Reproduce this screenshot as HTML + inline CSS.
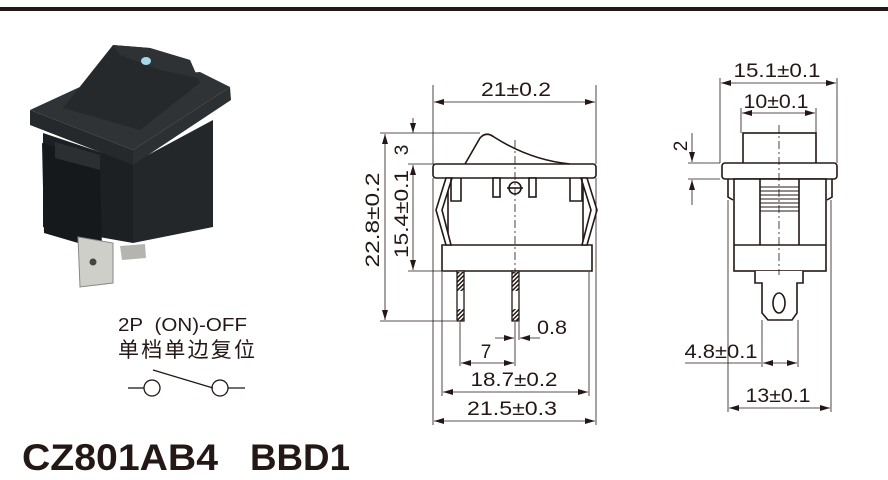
<!DOCTYPE html>
<html><head><meta charset="utf-8"><style>
html,body{margin:0;padding:0;background:#fff;}
svg{display:block;}
text{font-family:"Liberation Sans","Noto Sans CJK SC",sans-serif;fill:#231815;}
</style></head><body>
<svg width="888" height="480" viewBox="0 0 888 480" xmlns="http://www.w3.org/2000/svg">
<defs>
<marker id="a" viewBox="0 0 10 6" refX="10" refY="3" markerWidth="10" markerHeight="6" orient="auto-start-reverse" markerUnits="userSpaceOnUse"><path d="M0,0 L10,3 L0,6 z" fill="#231815"/></marker>
<pattern id="h" width="3" height="3" patternUnits="userSpaceOnUse" patternTransform="rotate(45)"><rect width="1.5" height="3" fill="#231815"/></pattern>
</defs>
<rect x="0" y="7" width="888" height="4" fill="#231815"/>

<!-- photo -->
<g>
<path d="M120,246 L145,244 L146,258 L122,260 Z" fill="#b5b5b0"/>
<path d="M43,133 L133,163 L133,243 L43,227 Z" fill="#1d2022"/>
<path d="M133,163 L213,120 L213,227 L133,243 Z" fill="#23272a"/>
<path d="M42,143 L100,160 L102,250 L44,233 Z" fill="#16191b"/>
<path d="M55,142 L100,155 L100,170 L55,158 Z" fill="#2b2f32"/>
<path d="M30,110 L133,150 L133,165 L30,125 Z" fill="#25292c"/>
<path d="M133,150 L230,87 L231,100 L133,165 Z" fill="#2c3033"/>
<path d="M30,110 L95,80 L200,72 L230,87 L133,150 Z" fill="#2f3336"/>
<path d="M63,108 L113,45 L150,48 L190,60 L200,83 L140,130 Z" fill="#26292c"/>
<path d="M113,45 L150,48 L190,60 L198,78 L160,70 L120,55 Z" fill="#2e3235"/>
<path d="M78,237 L113,243 L113,283 L80,287 Z" fill="#cfcfca" stroke="#888" stroke-width="1"/>
<circle cx="93" cy="262" r="3.5" fill="#444"/>
<ellipse cx="146" cy="61" rx="5" ry="4" fill="#a7d8e8"/>
</g>

<text x="118" y="331" font-size="18" textLength="129" lengthAdjust="spacingAndGlyphs">2P&#160;&#160;(ON)-OFF</text>
<text x="118" y="357" font-size="21" textLength="137" lengthAdjust="spacing">单档单边复位</text>
<g stroke="#231815" stroke-width="1.3" fill="none">
<line x1="128" y1="388" x2="144" y2="388"/>
<circle cx="152" cy="388" r="8"/>
<line x1="153" y1="370" x2="213" y2="388"/>
<circle cx="220" cy="388" r="8"/>
<line x1="228" y1="388" x2="245" y2="388"/>
</g>
<text x="22" y="470" font-size="37" font-weight="bold" textLength="196" lengthAdjust="spacingAndGlyphs">CZ801AB4</text>
<text x="250" y="470" font-size="37" font-weight="bold" textLength="100" lengthAdjust="spacingAndGlyphs">BBD1</text>

<!-- middle drawing -->
<g stroke="#231815" stroke-width="1.6" fill="#fff">
<path d="M465,164 L480,138 Q486,131 494,137 Q530,160 570,164" fill="none"/>
<rect x="433" y="164" width="163" height="14" rx="3"/>
<path d="M442,245 L442,271 L592,271 L592,245 Z"/>
<path d="M448,178 L448,245 M583,178 L583,245" fill="none"/>
<path d="M446,178 L436,210 L446,245 L451,245 L442,210 L452,178 Z"/>
<path d="M587,178 L597,210 L587,245 L582,245 L591,210 L581,178 Z"/>
<path d="M451,178 L451,201 L461,201 L461,178" fill="none"/>
<rect x="493" y="178" width="7" height="19"/>
<rect x="529" y="178" width="7" height="19"/>
<path d="M582,178 L582,201 L570,201 L570,178" fill="none"/>
<circle cx="515" cy="188" r="6" fill="none"/>
<line x1="507" y1="188" x2="523" y2="188"/>
</g>
<g stroke="#231815" stroke-width="1.3">
<rect x="457" y="271" width="7" height="50" fill="#fff"/>
<rect x="512" y="271" width="7" height="50" fill="#fff"/>
</g>
<rect x="457" y="272" width="7" height="19" fill="url(#h)"/>
<rect x="457" y="309" width="7" height="12" fill="url(#h)"/>
<rect x="512" y="272" width="7" height="19" fill="url(#h)"/>
<rect x="512" y="309" width="7" height="12" fill="url(#h)"/>
<line x1="515" y1="140" x2="515" y2="280" stroke="#231815" stroke-width="0.8" stroke-dasharray="8,3,2,3"/>

<g stroke="#231815" stroke-width="0.8" fill="none">
<line x1="433" y1="85" x2="433" y2="164"/><line x1="596" y1="85" x2="596" y2="164"/>
<line x1="434" y1="102" x2="595" y2="102" marker-start="url(#a)" marker-end="url(#a)"/>
<line x1="380" y1="133" x2="480" y2="133"/>
<line x1="380" y1="321" x2="456" y2="321"/>
<line x1="408" y1="164" x2="440" y2="164"/>
<line x1="408" y1="271" x2="442" y2="271"/>
<line x1="385" y1="134" x2="385" y2="320" marker-start="url(#a)" marker-end="url(#a)"/>
<line x1="413" y1="118" x2="413" y2="133" marker-end="url(#a)"/>
<line x1="413" y1="165" x2="413" y2="270" marker-start="url(#a)" marker-end="url(#a)"/>
<line x1="460" y1="322" x2="460" y2="366"/><line x1="515" y1="322" x2="515" y2="366"/><line x1="519" y1="322" x2="519" y2="340"/>
<line x1="461" y1="363" x2="514" y2="363" marker-start="url(#a)" marker-end="url(#a)"/>
<line x1="495" y1="338" x2="514" y2="338" marker-end="url(#a)"/>
<line x1="540" y1="338" x2="520" y2="338" marker-end="url(#a)"/>
<line x1="442" y1="272" x2="442" y2="396"/><line x1="589" y1="272" x2="589" y2="396"/>
<line x1="443" y1="392" x2="588" y2="392" marker-start="url(#a)" marker-end="url(#a)"/>
<line x1="433" y1="178" x2="433" y2="425"/><line x1="596" y1="178" x2="596" y2="425"/>
<line x1="434" y1="421" x2="595" y2="421" marker-start="url(#a)" marker-end="url(#a)"/>
</g>
<g font-size="19" text-anchor="middle" lengthAdjust="spacingAndGlyphs">
<text x="516" y="96" textLength="70" lengthAdjust="spacingAndGlyphs">21±0.2</text>
<text transform="translate(408,150) rotate(-90)">3</text>
<text transform="translate(408,214) rotate(-90)" textLength="88" lengthAdjust="spacingAndGlyphs">15.4±0.1</text>
<text transform="translate(379,220) rotate(-90)" textLength="95" lengthAdjust="spacingAndGlyphs">22.8±0.2</text>
<text x="552" y="334" textLength="30" lengthAdjust="spacingAndGlyphs">0.8</text>
<text x="486" y="358">7</text>
<text x="514" y="386" textLength="87" lengthAdjust="spacingAndGlyphs">18.7±0.2</text>
<text x="512" y="415" textLength="90" lengthAdjust="spacingAndGlyphs">21.5±0.3</text>
</g>

<!-- right drawing -->
<g stroke="#231815" stroke-width="1.6" fill="#fff">
<rect x="743" y="133" width="73" height="31"/>
<rect x="722" y="163" width="115" height="16" rx="3"/>
<rect x="734" y="179" width="92" height="92"/>
<path d="M760,179 L760,245 M799,179 L799,245 M734,245 L826,245" fill="none"/>
<path d="M728,179 L728,197 L733,200 M832,179 L832,197 L827,200" fill="none"/>
<path d="M755,271 L755,283 L762,283 L762,313 L768,320 L792,320 L797,313 L797,283 L803,283 L803,271"/>
<ellipse cx="779" cy="303" rx="6" ry="10"/>
</g>
<g stroke="#231815" stroke-width="1.1">
<line x1="760" y1="187" x2="799" y2="187"/><line x1="760" y1="191" x2="799" y2="191"/>
<line x1="760" y1="195" x2="799" y2="195"/><line x1="760" y1="199" x2="799" y2="199"/>
<line x1="760" y1="203" x2="799" y2="203"/><line x1="760" y1="207" x2="799" y2="207"/>
<line x1="760" y1="211" x2="799" y2="211"/>
</g>
<line x1="779" y1="125" x2="779" y2="275" stroke="#231815" stroke-width="0.8" stroke-dasharray="8,3,2,3"/>
<g stroke="#231815" stroke-width="0.8" fill="none">
<line x1="720" y1="78" x2="720" y2="163"/><line x1="837" y1="78" x2="837" y2="163"/>
<line x1="721" y1="83" x2="836" y2="83" marker-start="url(#a)" marker-end="url(#a)"/>
<line x1="741" y1="108" x2="741" y2="133"/><line x1="816" y1="108" x2="816" y2="133"/>
<line x1="742" y1="113" x2="815" y2="113" marker-start="url(#a)" marker-end="url(#a)"/>
<line x1="688" y1="163" x2="720" y2="163"/><line x1="688" y1="179" x2="720" y2="179"/>
<line x1="692" y1="133" x2="692" y2="162" marker-end="url(#a)"/>
<line x1="692" y1="205" x2="692" y2="180" marker-end="url(#a)"/>
<line x1="762" y1="320" x2="762" y2="367"/><line x1="798" y1="320" x2="798" y2="367"/>
<line x1="685" y1="363" x2="761" y2="363"/>
<line x1="763" y1="363" x2="797" y2="363" marker-start="url(#a)" marker-end="url(#a)"/>
<line x1="728" y1="200" x2="728" y2="412"/><line x1="831" y1="200" x2="831" y2="412"/>
<line x1="729" y1="408" x2="830" y2="408" marker-start="url(#a)" marker-end="url(#a)"/>
</g>
<g font-size="19" text-anchor="middle">
<text x="777" y="77" textLength="87" lengthAdjust="spacingAndGlyphs">15.1±0.1</text>
<text x="776" y="108" textLength="65" lengthAdjust="spacingAndGlyphs">10±0.1</text>
<text transform="translate(687,146) rotate(-90)">2</text>
<text x="721" y="358" textLength="73" lengthAdjust="spacingAndGlyphs">4.8±0.1</text>
<text x="778" y="402" textLength="65" lengthAdjust="spacingAndGlyphs">13±0.1</text>
</g>
</svg>
</body></html>
